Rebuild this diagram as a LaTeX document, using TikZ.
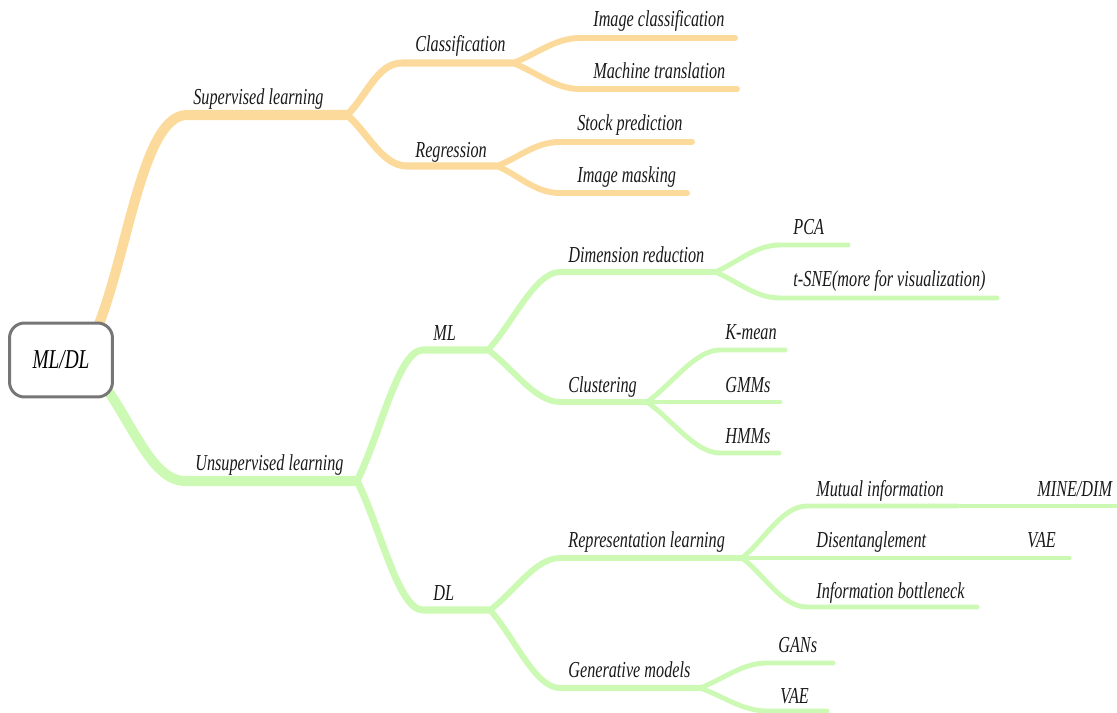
\documentclass[tikz,border=0pt]{standalone}
\usepackage{fontspec}
\setmainfont{Liberation Serif}[FakeStretch=0.71]
\usepackage{tikz}
\usetikzlibrary{calc,positioning,backgrounds}
\definecolor{supline}{RGB}{252,218,155}
\definecolor{unsline}{RGB}{204,250,180}
\definecolor{rootedge}{RGB}{118,118,118}
\definecolor{topictext}{RGB}{25,25,25}

\begin{document}
\begin{tikzpicture}[
    x=0.02cm, y=-0.02cm,
    line cap=round,
    sup/.style={draw=supline},
    uns/.style={draw=unsline},
    lvl1/.style={line width=5.7pt},
    lvl2/.style={line width=4pt},
    lvl3/.style={line width=3.4pt},
    lvl4/.style={line width=2.8pt},
    lvl5/.style={line width=1.8pt},
    fork/.style={to path={.. controls ($(\tikztostart)!0.35!(\tikztotarget)$) and ($(\tikztotarget)+(-#1,0)$) .. (\tikztotarget)}},
    fork/.default=25,
    topic/.style={anchor=base west, inner sep=0, text=topictext, font=\itshape\fontsize{13}{15}\selectfont},
    rootbox/.style={draw=rootedge, line width=1.7pt, fill=white, rounded corners=0.3cm,
        minimum width=2.06cm, minimum height=1.48cm, inner sep=0, font=\itshape\fontsize{15.5}{18}\selectfont}]
\useasboundingbox (0,0) rectangle (1117,713);

\node[rootbox] (root) at (61,360) {ML/DL};

% supervised side
\coordinate (sup-s) at (187,115); \coordinate (sup-e) at (347,115);
\coordinate (cls-s) at (402,63);  \coordinate (cls-e) at (513,63);
\coordinate (imc-s) at (580,38);  \coordinate (imc-e) at (735,38);
\coordinate (mtr-s) at (580,89);  \coordinate (mtr-e) at (737,89);
\coordinate (reg-s) at (407,166); \coordinate (reg-e) at (497,166);
\coordinate (stk-s) at (560,142); \coordinate (stk-e) at (692,142);
\coordinate (msk-s) at (560,193); \coordinate (msk-e) at (687,193);

% unsupervised side
\coordinate (uns-s) at (185,481); \coordinate (uns-e) at (357,481);
\coordinate (ml-s) at (423,350);  \coordinate (ml-e) at (488,350);
\coordinate (dim-s) at (560,272); \coordinate (dim-e) at (715,272);
\coordinate (pca-s) at (780,245); \coordinate (pca-e) at (848,245);
\coordinate (tsne-s) at (780,298); \coordinate (tsne-e) at (997,298);
\coordinate (clu-s) at (560,402); \coordinate (clu-e) at (647,402);
\coordinate (kmn-s) at (720,350); \coordinate (kmn-e) at (785,350);
\coordinate (gmm-e) at (780,402);
\coordinate (hmm-s) at (720,453); \coordinate (hmm-e) at (779,453);
\coordinate (dl-s) at (423,610);  \coordinate (dl-e) at (490,610);
\coordinate (rep-s) at (560,558); \coordinate (rep-e) at (742,558);
\coordinate (mut-s) at (807,506); \coordinate (mut-e) at (957,506);
\coordinate (mine-e) at (1117,506);
\coordinate (dis-e) at (937,558);
\coordinate (vaea-e) at (1070,558);
\coordinate (ib-s) at (807,607);  \coordinate (ib-e) at (977,607);
\coordinate (gen-s) at (560,688); \coordinate (gen-e) at (700,688);
\coordinate (gan-s) at (767,663); \coordinate (gan-e) at (833,663);
\coordinate (vaeb-s) at (767,711); \coordinate (vaeb-e) at (827,711);

\begin{scope}[on background layer]
\path[sup, lvl1] ([shift={(-18,10)}]root.north east) to[fork=45] (sup-s) -- (sup-e);
\path[uns, lvl1] ([shift={(-14,-18)}]root.south east) to[fork=35] (uns-s) -- (uns-e);
\end{scope}

\path[sup, lvl2] (sup-e) to[fork] (cls-s) -- (cls-e);
\path[sup, lvl2] (sup-e) to[fork] (reg-s) -- (reg-e);
\path[sup, lvl3] (cls-e) to[fork] (imc-s) -- (imc-e);
\path[sup, lvl3] (cls-e) to[fork] (mtr-s) -- (mtr-e);
\path[sup, lvl3] (reg-e) to[fork] (stk-s) -- (stk-e);
\path[sup, lvl3] (reg-e) to[fork] (msk-s) -- (msk-e);

\path[uns, lvl2] (uns-e) to[fork] (ml-s) -- (ml-e);
\path[uns, lvl2] (uns-e) to[fork] (dl-s) -- (dl-e);
\path[uns, lvl3] (ml-e) to[fork] (dim-s) -- (dim-e);
\path[uns, lvl3] (ml-e) to[fork] (clu-s) -- (clu-e);
\path[uns, lvl4] (dim-e) to[fork] (pca-s) -- (pca-e);
\path[uns, lvl4] (dim-e) to[fork] (tsne-s) -- (tsne-e);
\path[uns, lvl4] (clu-e) to[fork] (kmn-s) -- (kmn-e);
\path[uns, lvl4] (clu-e) -- (gmm-e);
\path[uns, lvl4] (clu-e) to[fork] (hmm-s) -- (hmm-e);
\path[uns, lvl3] (dl-e) to[fork] (rep-s) -- (rep-e);
\path[uns, lvl3] (dl-e) to[fork] (gen-s) -- (gen-e);
\path[uns, lvl4] (rep-e) to[fork] (mut-s) -- (mut-e);
\path[uns, lvl5] (mut-e) -- (mine-e);
\path[uns, lvl4] (rep-e) -- (dis-e);
\path[uns, lvl5] (dis-e) -- (vaea-e);
\path[uns, lvl4] (rep-e) to[fork] (ib-s) -- (ib-e);
\path[uns, lvl4] (gen-e) to[fork] (gan-s) -- (gan-e);
\path[uns, lvl4] (gen-e) to[fork] (vaeb-s) -- (vaeb-e);

\node[topic] (sup) at (193,105) {Supervised learning};
\node[topic] (cls) at (415,52) {Classification};
\node[topic] (imc) at (593,27) {Image classification};
\node[topic] (mtr) at (593,79) {Machine translation};
\node[topic] (reg) at (415,158) {Regression};
\node[topic] (stk) at (577,131) {Stock prediction};
\node[topic] (msk) at (577,183) {Image masking};

\node[topic] (uns) at (195,470) {Unsupervised learning};
\node[topic] (ml) at (433,340) {ML};
\node[topic] (dim) at (568,262) {Dimension reduction};
\node[topic] (pca) at (793,235) {PCA};
\node[topic] (tsne) at (793,287) {t-SNE(more for visualization)};
\node[topic] (clu) at (568,392) {Clustering};
\node[topic] (kmn) at (725,339) {K-mean};
\node[topic] (gmm) at (725,392) {GMMs};
\node[topic] (hmm) at (725,443) {HMMs};
\node[topic] (dl) at (433,600) {DL};
\node[topic] (rep) at (568,547) {Representation learning};
\node[topic] (mut) at (816,496) {Mutual information};
\node[topic] (mine) at (1037,496) {MINE/DIM};
\node[topic] (dis) at (816,547) {Disentanglement};
\node[topic] (vaea) at (1027,547) {VAE};
\node[topic] (ib) at (816,598) {Information bottleneck};
\node[topic] (gen) at (568,677) {Generative models};
\node[topic] (gan) at (778,652) {GANs};
\node[topic] (vaeb) at (780,703) {VAE};
\end{tikzpicture}
\end{document}
